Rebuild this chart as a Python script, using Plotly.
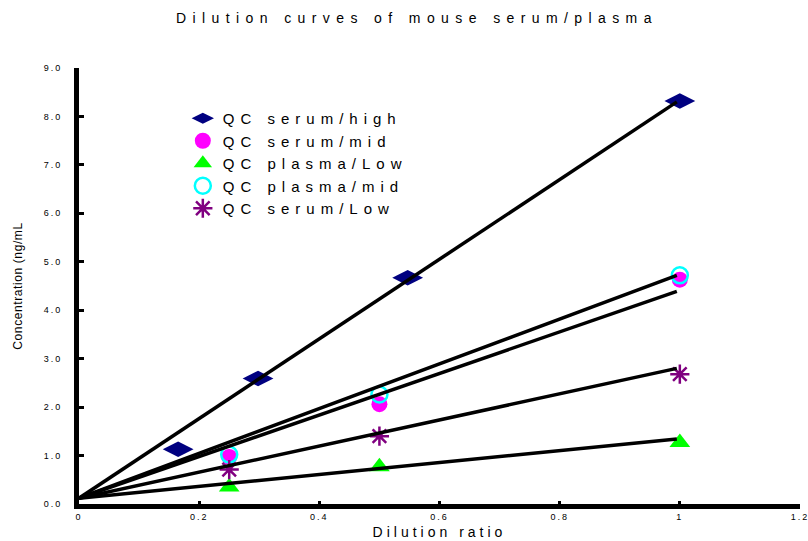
import plotly.graph_objects as go

# ---- data ----
series_names = ["QC serum/high", "QC serum/mid", "QC plasma/Low", "QC plasma/mid", "QC serum/Low"]

high_x = [0.165, 0.298, 0.547, 1.0]
high_y = [1.13, 2.59, 4.67, 8.32]

serum_mid_x = [0.25, 0.5, 1.0]
serum_mid_y = [0.97, 2.06, 4.63]

plasma_low_x = [0.25, 0.5, 1.0]
plasma_low_y = [0.35, 0.77, 1.27]

plasma_mid_x = [0.25, 0.5, 1.0]
plasma_mid_y = [1.02, 2.26, 4.72]

serum_low_x = [0.25, 0.5, 1.0]
serum_low_y = [0.71, 1.40, 2.68]

# fitted lines (start, end)
fit_x = [0.0, 0.995]
fit_y_start = [0.12, 0.12, 0.12, 0.12, 0.12]
fit_y_end = [8.30, 4.72, 4.39, 2.80, 1.34]

y_ticks = [0, 1, 2, 3, 4, 5, 6, 7, 8, 9]
x_ticks = [0, 0.2, 0.4, 0.6, 0.8, 1.0, 1.2]
x_ticktext = ["0", "0.2", "0.4", "0.6", "0.8", "1", "1.2"]

FONT = "Liberation Sans, Arial, sans-serif"

fig = go.Figure()

fig.add_trace(go.Scatter(x=high_x, y=high_y, mode="markers", name=series_names[0],
                         marker=dict(symbol="diamond-wide", size=22, color="#000080")))
fig.add_trace(go.Scatter(x=serum_mid_x, y=serum_mid_y, mode="markers", name=series_names[1],
                         marker=dict(symbol="circle", size=16, color="#FF00FF")))
fig.add_trace(go.Scatter(x=plasma_low_x, y=plasma_low_y, mode="markers", name=series_names[2],
                         marker=dict(symbol="triangle-up", size=18, color="#00FF00")))
fig.add_trace(go.Scatter(x=plasma_mid_x, y=plasma_mid_y, mode="markers", name=series_names[3],
                         marker=dict(symbol="circle-open", size=16, color="#00FFFF",
                                     line=dict(width=2.5, color="#00FFFF"))))
fig.add_trace(go.Scatter(x=serum_low_x, y=serum_low_y, mode="markers", name=series_names[4],
                         marker=dict(symbol="asterisk-open", size=16, color="#800080",
                                     line=dict(width=2.5, color="#800080"))))

for y0, y1 in zip(fit_y_start, fit_y_end):
    fig.add_trace(go.Scatter(x=fit_x, y=[y0, y1], mode="lines", showlegend=False,
                             line=dict(color="black", width=3.5), hoverinfo="skip"))

fig.update_layout(
    width=808, height=541,
    margin=dict(l=79, r=8, t=68, b=37, autoexpand=False),
    paper_bgcolor="white", plot_bgcolor="white",
    font=dict(family=FONT, color="black"),
    title=dict(text="Dilution curves of mouse serum/plasma", x=0.516, xanchor="center",
               y=0.966, yanchor="middle", font=dict(size=14, family=FONT)),
    legend=dict(x=0.144, y=0.922, xanchor="left", yanchor="top", bgcolor="rgba(0,0,0,0)",
                font=dict(size=15, family=FONT), tracegroupgap=0),
    showlegend=True,
)

fig.update_xaxes(range=[0, 1.2], tickvals=x_ticks, ticktext=x_ticktext, automargin=False,
                 showline=True, linewidth=5, linecolor="black", mirror=False,
                 ticks="inside", ticklen=3, tickwidth=3, tickcolor="black",
                 showgrid=False, zeroline=False, tickfont=dict(size=9),
                 title=dict(text="Dilution ratio", font=dict(size=14), standoff=8))
fig.update_yaxes(range=[0, 9], tickvals=y_ticks, tickformat=".1f", automargin=False,
                 showline=True, linewidth=5, linecolor="black", mirror=False,
                 ticks="inside", ticklen=5, tickwidth=3, tickcolor="black",
                 ticklabelstandoff=10,
                 showgrid=False, zeroline=False, tickfont=dict(size=9),
                 title=dict(text="Concentration (ng/mL", font=dict(size=12), standoff=26))

post = """
document.body.style.margin='0';
document.documentElement.style.margin='0';
function sp(){
  document.querySelectorAll('.gtitle').forEach(e=>e.style.letterSpacing='6.4px');
  document.querySelectorAll('.legendtext').forEach(e=>e.style.letterSpacing='6px');
  document.querySelectorAll('.legend .scrollbox, .legend').forEach(e=>e.removeAttribute('clip-path'));
  document.querySelectorAll('.xtitle').forEach(e=>e.style.letterSpacing='4px');
  document.querySelectorAll('.ytitle').forEach(e=>e.style.letterSpacing='0.6px');
  document.querySelectorAll('.xtick text, .ytick text').forEach(e=>e.style.letterSpacing='2px');
}
sp();
"""

fig.write_html("out.html", post_script=post, config={"displayModeBar": False})
